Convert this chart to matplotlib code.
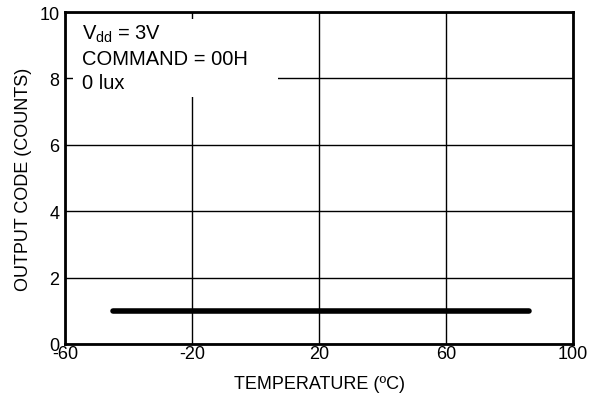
import matplotlib
matplotlib.use("Agg")
import matplotlib.pyplot as plt
from matplotlib.patches import Rectangle

plt.rcParams['font.family'] = ['Liberation Sans', 'DejaVu Sans']
plt.rcParams['mathtext.fontset'] = 'custom'
plt.rcParams['mathtext.rm'] = 'Liberation Sans'
plt.rcParams['mathtext.it'] = 'Liberation Sans'
plt.rcParams['axes.unicode_minus'] = False

# data
temp = [-45, 86]
code = [1, 1]
x_ticks = [-60, -20, 20, 60, 100]
y_ticks = [0, 2, 4, 6, 8, 10]
notes = ["V$_{\\mathrm{dd}}$ = 3V", "COMMAND = 00H", "0 lux"]

fig = plt.figure(figsize=(6.06, 4.06), dpi=100)
ax = fig.add_axes([65/606, 61/406, 508/606, 332/406])

ax.plot(temp, code, color="black", linewidth=4, solid_capstyle="round", zorder=3)

ax.set_xlim(-60, 100)
ax.set_ylim(0, 10)
ax.set_xticks(x_ticks)
ax.set_yticks(y_ticks)
ax.tick_params(length=0, labelsize=13)
ax.tick_params(axis="x", pad=1)
ax.tick_params(axis="y", pad=4)
ax.grid(True, color="black", linewidth=1)
for s in ax.spines.values():
    s.set_linewidth(2)
    s.set_zorder(4)

ax.set_xlabel("TEMPERATURE (ºC)", fontsize=13, labelpad=9)
ax.set_ylabel("OUTPUT CODE (COUNTS)", fontsize=13, labelpad=5)

# white box behind the notes
ax.add_patch(Rectangle((-57.5, 7.44), 64.6, 2.35, facecolor="white",
                       edgecolor="none", zorder=2))
for yy, s in zip([9.19, 8.43, 7.71], notes):
    ax.text(-54.5, yy, s, fontsize=14.5, va="baseline", ha="left", zorder=3)

fig.savefig("out.png", dpi=100)
